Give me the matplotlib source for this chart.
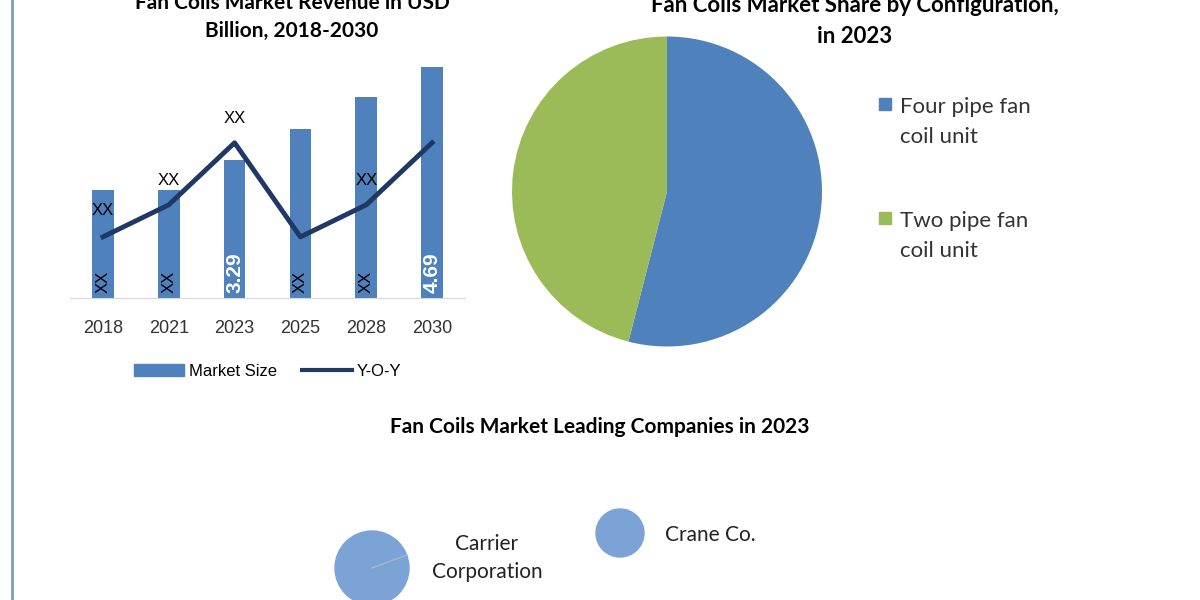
import matplotlib
matplotlib.use("Agg")
import matplotlib.pyplot as plt
from matplotlib.lines import Line2D
from matplotlib.patches import Patch

years = ["2018", "2021", "2023", "2025", "2028", "2030"]
market_size = [2.19, 2.19, 2.80, 3.43, 4.08, 4.69]
yoy = [1.24, 1.89, 3.15, 1.24, 1.89, 3.15]
inner_labels = ["XX", "XX", "3.29", "XX", "XX", "4.69"]
top_labels = ["XX", "XX", "XX", "", "XX", ""]
top_label_y = [1.78, 2.38, 3.64, None, 2.38, None]

config_labels = ["Four pipe fan\ncoil unit", "Two pipe fan\ncoil unit"]
config_share = [54, 46]

companies = ["Carrier\nCorporation", "Crane Co."]
comp_x = [372, 620]
comp_y = [568, 533]
comp_r = [37, 24]

BLUE = "#4F81BD"
GREEN = "#9BBB59"
NAVY = "#1F3864"
BUBBLE = "#7BA3D6"
LAB = "Lato"

fig = plt.figure(figsize=(12, 6), dpi=100)
fig.patch.set_facecolor("white")

bg = fig.add_axes([0, 0, 1, 1])
bg.set_xlim(0, 1200); bg.set_ylim(600, 0); bg.axis("off")
bg.plot([12, 12], [0, 600], color="#7F9DC0", lw=2)

# ---- bar chart
ax = fig.add_axes([70/1200, 1-298/600, 395/1200, 243/600])
x = range(len(years))
ax.bar(x, market_size, width=0.33, color=BLUE, zorder=2)
ax.plot(x, yoy, color=NAVY, lw=3.5, zorder=3)
ax.set_xlim(-0.5, 5.5); ax.set_ylim(0, 4.93)
for s in ["top", "left", "right"]:
    ax.spines[s].set_visible(False)
ax.spines["bottom"].set_color("#D9D9D9")
ax.set_yticks([])
ax.set_xticks(list(x)); ax.set_xticklabels(years, fontsize=13, color="#333333",
                                           family="Liberation Sans")
ax.tick_params(axis="x", length=0, pad=16)
for i, lab in enumerate(inner_labels):
    white = lab != "XX"
    ax.text(i, 0.1, lab, rotation=90, ha="center", va="bottom",
            fontsize=15 if white else 12, color="white" if white else "black",
            fontweight="bold" if white else "normal", family="Liberation Sans", zorder=4)
for i, lab in enumerate(top_labels):
    if lab:
        ax.text(i, top_label_y[i], lab, ha="center", va="center", fontsize=12,
                family="Liberation Sans", zorder=4)
ax.legend(handles=[Patch(color=BLUE, label="Market Size"),
                   Line2D([0], [0], color=NAVY, lw=3, label="Y-O-Y")],
          loc="upper center", bbox_to_anchor=(0.5, -0.21), ncol=2, frameon=False,
          prop={"family": "Liberation Sans", "size": 12},
          handlelength=3, columnspacing=1.5, handletextpad=0.3)
fig.text(292/1200, 1-17/600, "Fan Coils Market Revenue in USD\nBillion, 2018-2030",
         ha="center", va="center", fontsize=15, fontweight="bold", family=LAB,
         linespacing=1.5)

# ---- pie
pax = fig.add_axes([512/1200, 1-347/600, 310/1200, 311/600])
pax.pie(config_share, colors=[BLUE, GREEN], startangle=90, counterclock=False, radius=1)
pax.set_xlim(-1, 1); pax.set_ylim(-1, 1)
pax.set_aspect("equal")
fig.text(855/1200, 1-21/600, "Fan Coils Market Share by Configuration,\nin 2023",
         ha="center", va="center", fontsize=16, fontweight="bold", family=LAB,
         linespacing=1.6)
for lab, col, y in zip(config_labels, [BLUE, GREEN], [122, 236]):
    bg.add_patch(plt.Rectangle((879, y - 24), 12, 12, color=col))
    bg.text(900, y, lab, fontsize=16, va="center", ha="left", family=LAB,
            color="#333333", linespacing=1.6)

# ---- bubbles
fig.text(600/1200, 1-427/600, "Fan Coils Market Leading Companies in 2023",
         ha="center", va="center", fontsize=15, fontweight="bold", family=LAB)
for name, cx, cy, r in zip(companies, comp_x, comp_y, comp_r):
    bg.add_patch(plt.Circle((cx, cy), r, color=BUBBLE))
bg.plot([comp_x[0], 407], [comp_y[0], 555], color="#A6B8CC", lw=1)
bg.text(487, 558, companies[0], ha="center", va="center", fontsize=15,
        family=LAB, color="#222222", linespacing=1.5)
bg.text(665, 535, companies[1], ha="left", va="center", fontsize=15,
        family=LAB, color="#222222")

fig.savefig("out.png", dpi=100)
